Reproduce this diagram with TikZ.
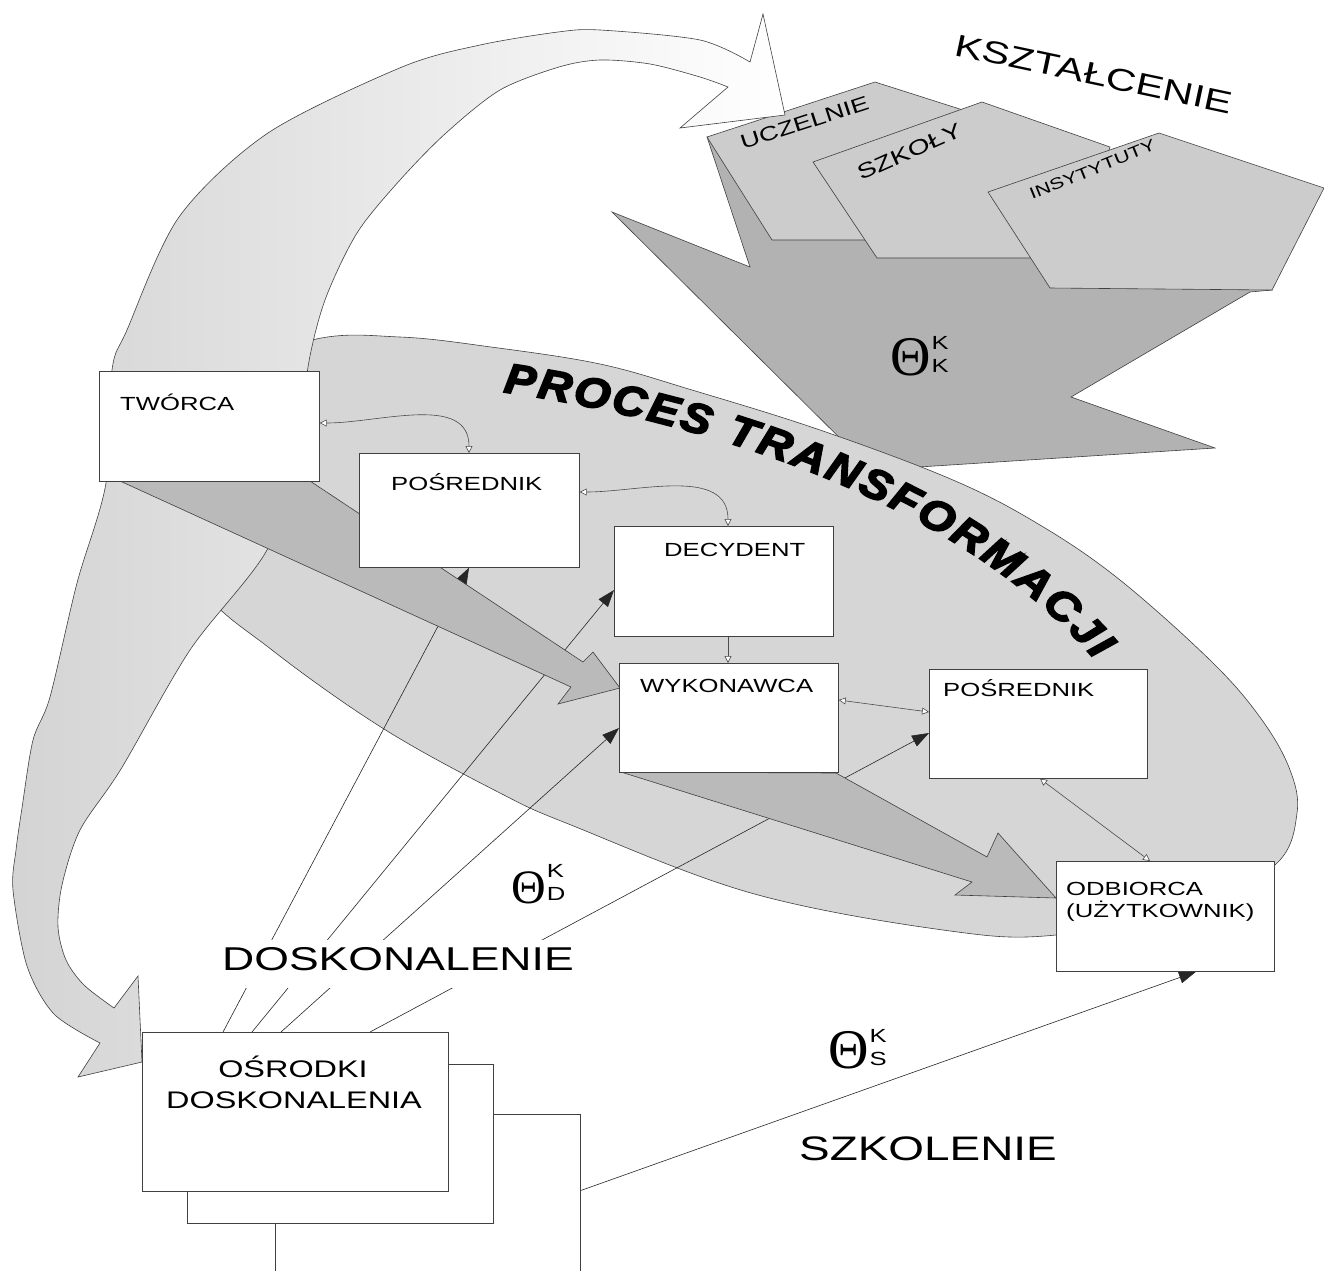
\documentclass[tikz,border=0pt]{standalone}
\usepackage{fontspec}
\setmainfont{Liberation Sans}[FakeStretch=1.35]
\newfontfamily\thfont{Liberation Serif}
\newfontfamily\procfont{Liberation Sans}[FakeStretch=1.1, BoldItalicFeatures={FakeBold=4}]
\usetikzlibrary{arrows.meta,decorations.text}

\definecolor{bandgray}{gray}{0.83}
\definecolor{ovalgray}{gray}{0.84}
\definecolor{flowgray}{gray}{0.73}
\definecolor{kbodygray}{gray}{0.70}
\definecolor{kplategray}{gray}{0.80}
\definecolor{edgegray}{gray}{0.25}

\pgfdeclarelayer{back}
\pgfdeclarelayer{feedlayer}
\pgfdeclarelayer{flowlayer}
\pgfsetlayers{back,feedlayer,flowlayer,main}

\newcommand{\thetamark}[2]{{\thfont\fontsize{#1}{#1}\selectfont Θ}\kern1pt\raisebox{3pt}{\fontsize{19}{19}\selectfont\shortstack[l]{K\\[6pt]#2}}}

\tikzset{
  stage/.style={draw=edgegray, fill=white, line width=0.7pt, anchor=north west, inner sep=0pt},
  stagetext/.style={anchor=base west, inner sep=0pt, font=\fontsize{19}{22}\selectfont},
  platetext/.style={anchor=base west, inner sep=0pt, font=\fontsize{#1}{#1}\selectfont},
  feed/.style={draw=black!85, line width=0.6pt, -{Triangle[length=17pt,width=12pt]}},
  link/.style={draw=black!70, line width=0.6pt, {Triangle[fill=white,length=7pt,width=7pt]}-{Triangle[fill=white,length=7pt,width=7pt]}},
  onelink/.style={draw=black!70, line width=0.6pt, -{Triangle[fill=white,length=7pt,width=7pt]}},
  flow/.style={draw=edgegray, line width=0.6pt, fill=flowgray},
  kbody/.style={draw=edgegray, line width=0.6pt, fill=kbodygray},
  kplate/.style={draw=edgegray, line width=0.6pt, fill=kplategray},
}

\begin{document}
\begin{tikzpicture}[x=1pt,y=-1pt]
  \useasboundingbox (0,0) rectangle (1324,1270);
  \clip (0,0) rectangle (1324,1270);

  % boxes
  \node[stage, minimum width=220, minimum height=110] (tworca) at (99,371) {};
  \node[stage, minimum width=220, minimum height=114] (posr1) at (359,453) {};
  \node[stage, minimum width=219, minimum height=110] (decyd) at (614,526) {};
  \node[stage, minimum width=219, minimum height=109] (wykon) at (619,663) {};
  \node[stage, minimum width=218, minimum height=109] (posr2) at (929,669) {};
  \node[stage, minimum width=218, minimum height=110] (odbior) at (1056,861) {};
  \node[stage, minimum width=305, minimum height=210] (osr3) at (275,1114) {};
  \node[stage, minimum width=306, minimum height=159] (osr2) at (187,1064) {};
  \node[stage, minimum width=306, minimum height=159] (osr1) at (142,1032) {};

  \node[stagetext] (tworca-t) at ([xshift=21pt,yshift=-39pt]tworca.north west) {TWÓRCA};
  \node[stagetext] (posr1-t) at ([xshift=32pt,yshift=-37pt]posr1.north west) {POŚREDNIK};
  \node[stagetext] (decyd-t) at ([xshift=50pt,yshift=-30pt]decyd.north west) {DECYDENT};
  \node[stagetext] (wykon-t) at ([xshift=21pt,yshift=-29pt]wykon.north west) {WYKONAWCA};
  \node[stagetext] (posr2-t) at ([xshift=14pt,yshift=-27pt]posr2.north west) {POŚREDNIK};
  \node[stagetext] (odbior-t) at ([xshift=10pt,yshift=-34pt]odbior.north west) {ODBIORCA};
  \node[stagetext] (odbior-u) at ([xshift=10pt,yshift=-56pt]odbior.north west) {(UŻYTKOWNIK)};
  \node[anchor=base, inner sep=0pt, font=\fontsize{24}{24}\selectfont] (osr-t) at (293,1077) {OŚRODKI};
  \node[anchor=base, inner sep=0pt, font=\fontsize{24}{24}\selectfont] (osr-u) at (294,1108) {DOSKONALENIA};

  % open-headed links between the stages
  \draw[link] ([yshift=-52pt]tworca.north east) to[out=0,in=90] ([xshift=110pt]posr1.north west);
  \draw[link] ([yshift=-39pt]posr1.north east) to[out=0,in=90] ([xshift=114pt]decyd.north west);
  \draw[onelink] ([xshift=114pt]decyd.south west) -- ([xshift=109pt]wykon.north west);
  \draw[link] ([yshift=-37pt]wykon.north east) -- ([yshift=-43pt]posr2.north west);
  \draw[link] ([xshift=111pt]posr2.south west) -- ([xshift=94pt]odbior.north west);

  \begin{pgfonlayer}{back}
    % KSZTALCENIE
    \draw[kbody] (707,137) -- (750,267) -- (612,212) -- (872,470) -- (1215,448) -- (1071,397)
      -- (1250,292) -- (1272,290) -- (1100,180) -- cycle;
    \draw[kplate] (707,137) -- (875,82) -- (1010,125) -- (985,240) -- (772,240) -- cycle;
    \draw[kplate] (813,162) -- (982,102) -- (1110,147) -- (1080,258) -- (877,258) -- cycle;
    \draw[kplate] (988,192) -- (1159,133) -- (1324,188) -- (1272,290) -- (1050,288) -- cycle;
    \node[platetext=20, rotate=18] (ucz) at (743,150) {UCZELNIE};
    \node[platetext=21, rotate=24] (szk) at (861,181) {SZKOŁY};
    \node[platetext=16, rotate=22] (ins) at (1032,200) {INSYTYTUTY};
    \node[platetext=31, rotate=-12] (kszt) at (953,55) {KSZTAŁCENIE};
    \node[anchor=base west, inner sep=0pt] (thk) at (890,375) {\thetamark{56}{K}};

    % proces transformacji
    \draw[draw=edgegray, line width=0.6pt, fill=ovalgray] plot[smooth cycle, tension=0.6] coordinates {
      (312,340) (400,337) (491,347) (600,364) (692,390) (820,430) (953,480) (1040,525)
      (1120,580) (1213,663) (1262,720) (1290,770) (1297,813) (1277,863) (1200,905)
      (1056,935) (943,930) (751,893) (571,825) (500,793) (384,729) (272,650) (200,585)
      (165,480) (200,385)};
    \path[decorate, decoration={text along path, text align=fit to path,
      text={|\procfont\bfseries\itshape\fontsize{42}{42}\selectfont|PROCES TRANSFORMACJI}}]
      (503,392) .. controls (700,420) and (960,500) .. (1095,660);

    % big curved arrow
    \draw[draw=edgegray, line width=0.6pt, left color=bandgray, middle color=gray!16, right color=white]
      (763,14) -- (785,115) -- (680,128) -- (728,87)
      -- plot[smooth] coordinates {(728,87) (700,77) (650,64) (600,60) (559,67) (500,90) (446,133)
        (400,180) (357,233) (325,300) (308,367) (300,450) (267,550) (190,650) (121,769) (80,830)
        (62,885) (58,927) (66,960) (84,985) (114,1008)}
      -- (138,976) -- (142,1062) -- (78,1077) -- (100,1043)
      -- plot[smooth] coordinates {(100,1043) (54,1014) (27,966) (13,890) (16,850) (22,808)
        (33,740) (50,697) (77,583) (106,483) (112,370) (127,330) (179,217) (268,133) (402,67)
        (480,45) (558,32) (600,30) (700,40) (750,62)}
      -- cycle;
  \end{pgfonlayer}

  \begin{pgfonlayer}{feedlayer}
    \draw[feed] ([xshift=81pt]osr1.north west) -- ([xshift=110pt]posr1.south west);
    \draw[feed] ([xshift=110pt]osr1.north west) -- ([yshift=-64pt]decyd.north west);
    \draw[feed] ([xshift=139pt]osr1.north west) -- ([yshift=-65pt]wykon.north west);
    \draw[feed] ([xshift=228pt]osr1.north west) -- ([yshift=-64pt]posr2.north west);
    \draw[feed] ([xshift=-7pt,yshift=-79pt]osr3.north east) -- ([xshift=140pt]odbior.south west);
  \end{pgfonlayer}

  \begin{pgfonlayer}{flowlayer}
    \draw[flow] (120,481) -- (310,481) -- (583,662) -- (593,652) -- (620,688) -- (558,704) -- (571,687) -- cycle;
    \draw[flow] (621,772) -- (836,773) -- (987,857) -- (998,833) -- (1056,898) -- (955,895) -- (972,882) -- cycle;
  \end{pgfonlayer}

  % labels of the flows
  \node[anchor=base west, fill=white, inner xsep=0pt, inner ysep=7pt, text depth=11pt,
    font=\fontsize{33}{33}\selectfont] (dosk) at (222,970) {DOSKONALENIE};
  \node[anchor=base west, inner sep=0pt, font=\fontsize{34}{34}\selectfont] (szkol) at (799,1160) {SZKOLENIE};
  \node[anchor=base west, inner sep=0pt] (thd) at (511,903) {\thetamark{48}{D}};
  \node[anchor=base west, inner sep=0pt] (ths) at (828,1068) {\thetamark{56}{S}};
\end{tikzpicture}
\end{document}
